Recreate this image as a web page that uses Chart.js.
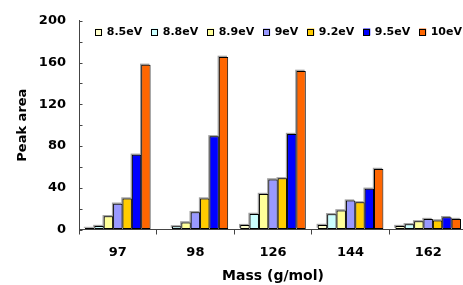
<!DOCTYPE html>
<html>
<head>
<meta charset="utf-8">
<script src="https://cdn.jsdelivr.net/npm/chart.js@4/dist/chart.umd.min.js"></script>
<style>
html,body{margin:0;padding:0;background:#fff;overflow:hidden;}
#wrap{width:467px;height:285px;}
</style>
</head>
<body>
<div id="wrap"><canvas id="c" width="467" height="285"></canvas></div>
<script>
const categories = ['97', '98', '126', '144', '162'];
const seriesNames = ['8.5eV', '8.8eV', '8.9eV', '9eV', '9.2eV', '9.5eV', '10eV'];
const s85  = [1.4, 0.5, 4.2, 4.3, 3.3];
const s88  = [3.3, 3.0, 14.9, 14.6, 5.0];
const s89  = [12.7, 6.8, 34.0, 18.3, 7.8];
const s9   = [24.7, 16.6, 48.0, 27.7, 10.0];
const s92  = [29.7, 29.7, 49.0, 26.0, 8.7];
const s95  = [71.6, 89.3, 91.5, 39.0, 11.8];
const s10  = [157.8, 165.4, 152.0, 58.0, 10.0];
const seriesValues = [s85, s88, s89, s9, s92, s95, s10];
const seriesColors = ['#FFFFCC', '#CCFFFF', '#FFFF99', '#9999FF', '#FFCC00', '#0000FF', '#FF6600'];
const yTicks = [0, 40, 80, 120, 160, 200];
const yMinorStep = 20;

const FONT = "'DejaVu Sans', Verdana, sans-serif";

const shadowPlugin = {
  id: 'barShadow',
  beforeDatasetsDraw(chart) {
    const ctx = chart.ctx;
    ctx.save();
    ctx.fillStyle = 'rgba(120,120,120,0.7)';
    chart.data.datasets.forEach((ds, i) => {
      const meta = chart.getDatasetMeta(i);
      meta.data.forEach(el => {
        const p = el.getProps(['x', 'y', 'base', 'width'], true);
        const left = p.x - p.width / 2 - 1.2;
        const top = Math.min(p.y, p.base) - 1.2;
        const h = Math.abs(p.base - p.y);
        ctx.fillRect(left, top, p.width, h);
      });
    });
    ctx.restore();
  }
};

const innerTicksPlugin = {
  id: 'innerTicks',
  afterDraw(chart) {
    const ctx = chart.ctx;
    const ys = chart.scales.y;
    const x0 = chart.chartArea.left;
    ctx.save();
    ctx.strokeStyle = '#444';
    ctx.lineWidth = 1;
    ctx.beginPath();
    for (let v = 0; v <= 200; v += yMinorStep) {
      const py = Math.round(ys.getPixelForValue(v)) + 0.5;
      ctx.moveTo(x0, py);
      ctx.lineTo(x0 + 3.5, py);
    }
    ctx.stroke();
    ctx.restore();
  }
};

const legendPlugin = {
  id: 'inLegend',
  afterDraw(chart) {
    const ctx = chart.ctx;
    ctx.save();
    ctx.font = "bold 11px " + FONT;
    ctx.textBaseline = 'middle';
    ctx.textAlign = 'left';
    const box = 7, gapText = 11.5, gapItem = 9;
    let total = 0;
    chart.data.datasets.forEach((ds, i) => {
      total += gapText + ctx.measureText(ds.label).width + (i ? gapItem : 0);
    });
    let x = Math.max(89, 462 - total);
    const yc = 32;
    chart.data.datasets.forEach(ds => {
      ctx.fillStyle = ds.backgroundColor;
      ctx.fillRect(x, yc - box / 2, box, box);
      ctx.strokeStyle = '#000';
      ctx.lineWidth = 1;
      ctx.strokeRect(Math.round(x) + 0.5, Math.round(yc - box / 2) + 0.5, box - 1, box - 1);
      ctx.fillStyle = '#000';
      ctx.fillText(ds.label, x + gapText, yc + 0.5);
      x += gapText + ctx.measureText(ds.label).width + gapItem;
    });
    ctx.restore();
  }
};

new Chart(document.getElementById('c'), {
  type: 'bar',
  data: {
    labels: categories,
    datasets: seriesNames.map((n, i) => ({
      label: n,
      data: seriesValues[i],
      backgroundColor: seriesColors[i],
      borderColor: '#000',
      borderWidth: 1,
      borderSkipped: false,
      barPercentage: 1.0,
      categoryPercentage: 0.845
    }))
  },
  options: {
    responsive: false,
    animation: false,
    devicePixelRatio: 1,
    layout: { padding: { top: 19, right: 0, bottom: 0, left: 0 } },
    plugins: {
      legend: { display: false },
      tooltip: { enabled: false }
    },
    scales: {
      x: {
        grid: { drawOnChartArea: false, drawTicks: true, tickLength: 5, color: '#444', offset: true },
        border: { color: '#444', width: 1 },
        ticks: { color: '#000', font: { family: FONT, size: 13, weight: 'bold' }, padding: 10 },
        title: { display: true, text: 'Mass (g/mol)', color: '#000', font: { family: FONT, size: 14, weight: 'bold' }, padding: { top: 0, bottom: 0 } },
        afterFit(scale) { scale.height = 55.5; }
      },
      y: {
        min: 0, max: 200,
        ticks: {
          stepSize: 40,
          color: '#000', font: { family: FONT, size: 13, weight: 'bold' }, padding: 13,
          callback: (v) => yTicks.includes(v) ? String(v) : ''
        },
        grid: { drawOnChartArea: false, drawTicks: false },
        border: { color: '#444', width: 1 },
        title: { display: true, text: 'Peak area', color: '#000', font: { family: FONT, size: 13, weight: 'bold' }, padding: { top: 15, bottom: 0 } },
        afterFit(scale) { scale.width = 79; }
      }
    }
  },
  plugins: [shadowPlugin, innerTicksPlugin, legendPlugin]
});
</script>
</body>
</html>
